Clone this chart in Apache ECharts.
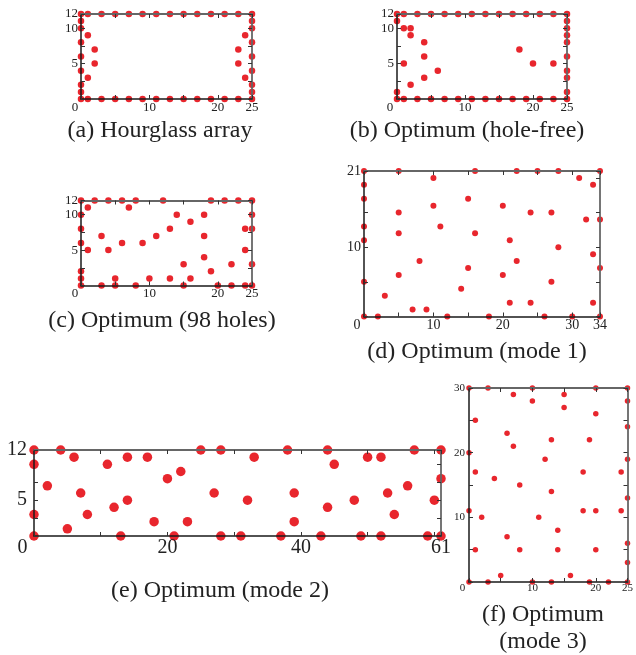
<!DOCTYPE html>
<html>
<head>
<meta charset="utf-8">
<script src="https://cdn.jsdelivr.net/npm/echarts@6/dist/echarts.min.js"></script>
<style>
  html, body { margin: 0; padding: 0; background: #fff; }
  #chart { width: 636px; height: 655px; }
</style>
</head>
<body>
<div id="chart"></div>
<script>
// Sensor positions [column, row] for each array layout.
const pointsHourglass = [
  [0,12],[1,12],[3,12],[5,12],[7,12],[9,12],[11,12],[13,12],[15,12],[17,12],[19,12],[21,12],[23,12],[25,12],
  [0,0],[1,0],[3,0],[5,0],[7,0],[9,0],[11,0],[13,0],[15,0],[17,0],[19,0],[21,0],[23,0],[25,0],
  [0,1],[0,2],[0,4],[0,6],[0,8],[0,10],[0,11],
  [25,1],[25,2],[25,4],[25,6],[25,8],[25,10],[25,11],
  [1,3],[1,9],[2,5],[2,7],[23,5],[23,7],[24,3],[24,9]
];
const pointsHoleFree = [
  [0,12],[1,12],[3,12],[5,12],[7,12],[9,12],[11,12],[13,12],[15,12],[17,12],[19,12],[21,12],[23,12],[25,12],
  [0,0],[1,0],[3,0],[5,0],[7,0],[9,0],[11,0],[13,0],[15,0],[17,0],[19,0],[21,0],[23,0],[25,0],
  [0,1],[0,11],[1,5],[1,10],[2,2],[2,9],[2,10],[4,3],[4,6],[4,8],[6,4],
  [18,7],[20,5],[23,5],
  [25,1],[25,3],[25,4],[25,6],[25,8],[25,9],[25,10],[25,11]
];
const points98Holes = [
  [0,12],[2,12],[4,12],[6,12],[8,12],[12,12],[19,12],[21,12],[23,12],[25,12],
  [0,0],[3,0],[5,0],[8,0],[15,0],[20,0],[22,0],[24,0],[25,0],
  [0,1],[0,2],[0,6],[0,8],[0,10],
  [1,5],[1,11],[3,7],[4,5],[5,1],[6,6],[7,11],[9,6],[10,1],[11,7],
  [13,1],[13,8],[14,10],[15,3],[16,1],[16,9],[18,4],[18,7],[18,10],[19,2],
  [22,3],[24,5],[24,8],[25,3],[25,8],[25,10]
];
const pointsMode1 = [
  [0,21],[5,21],[16,21],[22,21],[25,21],[28,21],[34,21],
  [0,0],[2,0],[12,0],[18,0],[26,0],[30,0],[34,0],
  [0,5],[0,11],[0,13],[0,17],[0,19],
  [3,3],[5,6],[5,12],[5,15],[7,1],[8,8],[9,1],[10,16],[10,20],[11,13],
  [14,4],[15,7],[15,17],[16,12],[20,6],[20,16],[21,2],[21,11],[22,8],
  [24,2],[24,15],[27,5],[27,15],[28,10],[31,20],[32,14],
  [33,2],[33,9],[33,19],[34,7],[34,14]
];
const pointsMode2 = [
  [0,12],[4,12],[25,12],[28,12],[38,12],[44,12],[57,12],[61,12],
  [6,11],[14,11],[17,11],[33,11],[50,11],[52,11],
  [0,10],[11,10],[45,10],
  [22,9],
  [20,8],[61,8],
  [2,7],[56,7],
  [7,6],[27,6],[39,6],[53,6],
  [14,5],[32,5],[48,5],[60,5],
  [12,4],[44,4],
  [0,3],[8,3],[54,3],
  [18,2],[23,2],[39,2],
  [5,1],
  [0,0],[13,0],[21,0],[28,0],[31,0],[37,0],[43,0],[49,0],[52,0],[59,0],[61,0]
];
const pointsMode3 = [
  [0,30],[3,30],[10,30],[20,30],[25,30],
  [7,29],[15,29],[10,28],[25,28],[15,27],[20,26],[1,25],[25,24],[6,23],
  [13,22],[19,22],[7,21],[0,20],[12,19],[25,19],
  [1,17],[18,17],[24,17],[4,16],[8,15],[13,14],[25,13],
  [0,11],[18,11],[20,11],[24,11],[2,10],[11,10],[14,8],[6,7],[25,6],
  [1,5],[8,5],[14,5],[20,5],[25,3],[5,1],[16,1],
  [0,0],[3,0],[10,0],[13,0],[19,0],[22,0],[25,0]
];

// Axis extents, tick steps and labelled tick values of the six panels (a)-(f).
const xMaxes = [25, 25, 25, 34, 61, 25];
const yMaxes = [12, 12, 12, 21, 12, 30];
const xTickSteps = [5, 5, 5, 5, 10, 5];
const yTickSteps = [2.5, 2.5, 2.5, 5, 2.5, 5];
const xLabelValues = [[0,10,20,25],[0,10,20,25],[0,10,20,25],[0,10,20,30,34],[0,20,40,61],[0,10,20,25]];
const yLabelValues = [[5,10,12],[5,10,12],[5,10,12],[10,20,21],[5,10,12],[10,20,30]];
const captions = [
  ['(a) Hourglass array'],
  ['(b) Optimum (hole-free)'],
  ['(c) Optimum (98 holes)'],
  ['(d) Optimum (mode 1)'],
  ['(e) Optimum (mode 2)'],
  ['(f) Optimum', '(mode 3)']
];

// Panel placement and styling.
const layout = [
  { grid: {left: 81,  top: 14,    width: 171, height: 85},    sym: 6.5, font: 13, xm: 2, ym: 3, zeroPad: 12, cap: [160, 131] },
  { grid: {left: 397, top: 14,    width: 170, height: 85},    sym: 6.5, font: 13, xm: 2, ym: 3, zeroPad: 14, cap: [467, 131] },
  { grid: {left: 81,  top: 200.5, width: 171, height: 85},    sym: 6.5, font: 13, xm: 2, ym: 3, zeroPad: 12, cap: [162, 321] },
  { grid: {left: 364, top: 171,   width: 236, height: 145.5}, sym: 6,   font: 14, xm: 2, ym: 3, zeroPad: 14, cap: [477, 352] },
  { grid: {left: 34,  top: 450,   width: 407, height: 86},    sym: 9.5, font: 20, xm: 2, ym: 7, zeroPad: 23, cap: [220, 591] },
  { grid: {left: 469, top: 388,   width: 162, height: 194},   sym: 5.5, font: 11, xm: 1, ym: 4, zeroPad: 13, cap: [543, 615] }
];
const panelPoints = [pointsHourglass, pointsHoleFree, points98Holes, pointsMode1, pointsMode2, pointsMode3];

const SERIF = '"Liberation Serif", "Times New Roman", serif';
const option = { animation: false, grid: [], xAxis: [], yAxis: [], series: [], graphic: [] };

layout.forEach((p, i) => {
  option.grid.push(Object.assign({ containLabel: false }, p.grid));
  const font = { fontFamily: SERIF, fontSize: p.font, color: '#222' };
  const base = (max, step) => ({
    type: 'value', gridIndex: i, min: 0, max: max, interval: step, z: 3,
    splitLine: { show: false },
    axisTick: { inside: true, length: 4, lineStyle: { color: '#333', width: 1 } }
  });
  const mainLine = { onZero: false, lineStyle: { color: '#1a1a1a', width: 1.5 } };
  const sideLine = { onZero: false, lineStyle: { color: '#666', width: 1.8 } };
  const xLab = xLabelValues[i], yLab = yLabelValues[i];

  option.xAxis.push(Object.assign(base(xMaxes[i], xTickSteps[i]), {
    position: 'bottom', axisLine: mainLine,
    axisLabel: Object.assign({}, font, {
      margin: p.xm, showMinLabel: true, showMaxLabel: true,
      formatter: v => v === 0 ? '{z|0}' : (xLab.includes(v) ? String(v) : ''),
      rich: { z: Object.assign({}, font, { padding: [0, p.zeroPad, 0, 0] }) }
    })
  }));
  option.xAxis.push(Object.assign(base(xMaxes[i], xTickSteps[i]), {
    position: 'top', axisLine: sideLine, axisLabel: { show: false }
  }));
  option.yAxis.push(Object.assign(base(yMaxes[i], yTickSteps[i]), {
    position: 'left', axisLine: mainLine,
    axisLabel: Object.assign({}, font, {
      margin: p.ym, showMinLabel: true, showMaxLabel: true,
      formatter: v => yLab.includes(v) ? String(v) : ''
    })
  }));
  option.yAxis.push(Object.assign(base(yMaxes[i], yTickSteps[i]), {
    position: 'right', axisLine: sideLine, axisLabel: { show: false }
  }));

  option.series.push({
    type: 'scatter', xAxisIndex: 2 * i, yAxisIndex: 2 * i, z: 2, clip: false,
    symbol: 'circle', symbolSize: p.sym,
    itemStyle: { color: '#e8262d', opacity: 1 },
    data: panelPoints[i]
  });

  captions[i].forEach((line, k) => {
    option.graphic.push({
      type: 'text', x: p.cap[0], y: p.cap[1] + k * 27, silent: true,
      style: {
        text: line, font: '24px ' + SERIF, fill: '#222',
        textAlign: 'center', textVerticalAlign: 'middle', align: 'center', verticalAlign: 'middle'
      }
    });
  });
});

const chart = echarts.init(document.getElementById('chart'), null, { renderer: 'canvas' });
chart.setOption(option);
</script>
</body>
</html>
